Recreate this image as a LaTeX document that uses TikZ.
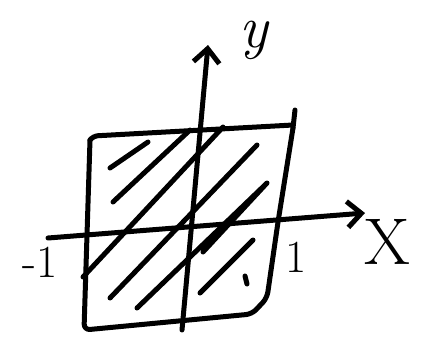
\documentclass[tikz,border=0pt]{standalone}
\usepackage{tikz}
\usetikzlibrary{arrows.meta}

\begin{document}
\begin{tikzpicture}[
    x=1pt, y=-1pt,
    pen/.style={line width=5pt, line cap=round, line join=round},
    axis/.style={pen, -{Straight Barb[length=14pt, width=26pt, line width=5pt]}},
    lbl/.style={font=\fontsize{46}{50}\selectfont, inner sep=0pt}
]
\useasboundingbox (0,0) rectangle (423,338);

% square
\draw[pen, rounded corners=5pt] (90,140) -- (93,136) -- (293,125);
\draw[pen] (295,110) -- (293,128);
\draw[pen, rounded corners=6pt] (293,128) -- (278,222) -- (267,298) -- (252,314) -- (84,330) -- (90,140);

% hatching
\draw[pen] (110,168) -- (148,142);
\draw[pen] (113,202) -- (190,130);
\draw[pen] (83,277) -- (223,127);
\draw[pen] (110,298) -- (257,145);
\draw[pen] (137,308) -- (267,183) -- (203,252);
\draw[pen] (200,293) -- (253,240);
\draw[pen] (245,276) -- (247,284);

% axes
\coordinate (xs) at (48,238);
\coordinate (xe) at (365,213);
\coordinate (ys) at (182,330);
\coordinate (ye) at (208,45);
\draw[axis] (xs) -- (xe);
\draw[axis] (ys) -- (ye);

% labels
\node[lbl, font=\fontsize{60}{64}\selectfont\itshape] (ly) at (254,40) {y};
\node[lbl, font=\fontsize{66}{70}\selectfont] (lx) at (387,242) {X};
\node[lbl] (lm) at (40,262) {-1};
\node[lbl] (lp) at (296,257) {1};
\end{tikzpicture}
\end{document}
